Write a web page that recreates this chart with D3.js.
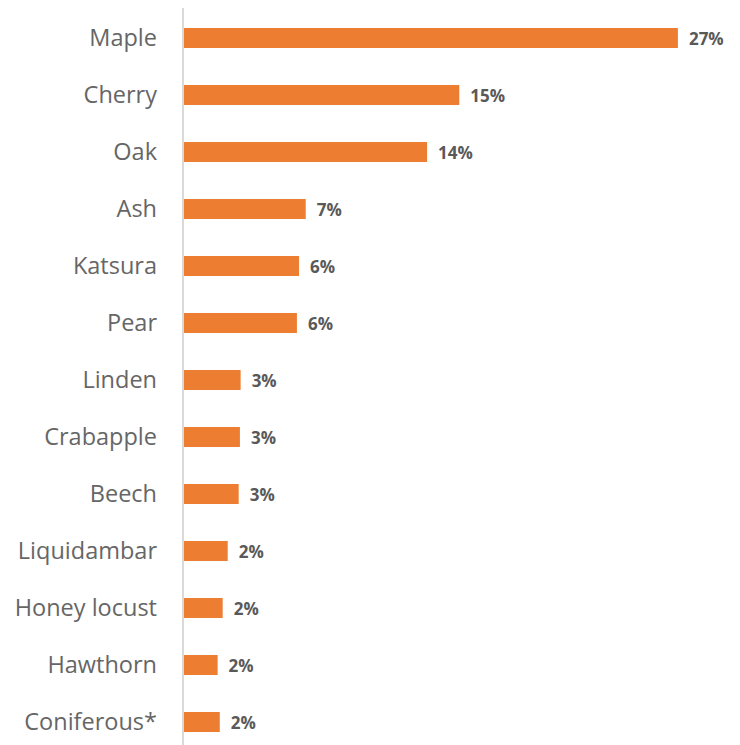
<!DOCTYPE html>
<html><head><meta charset="utf-8">
<script src="https://cdn.jsdelivr.net/npm/d3@7"></script>
<style>body{margin:0;background:#fff}svg{display:block}</style>
</head><body>
<script>
const categories = ["Maple","Cherry","Oak","Ash","Katsura","Pear","Linden","Crabapple","Beech","Liquidambar","Honey locust","Hawthorn","Coniferous*"];
const values = [27.47, 15.31, 13.52, 6.77, 6.40, 6.28, 3.15, 3.11, 3.04, 2.43, 2.15, 1.87, 1.99];

const W = 740, H = 745;
const svg = d3.select("body").append("svg").attr("width", W).attr("height", H);
const x0 = 184;
const x = d3.scaleLinear().domain([0, 30]).range([x0, x0 + 30 * 17.98]);
const y = d3.scaleBand().domain(categories).range([9.5, 750.5]).paddingInner(0.649).paddingOuter(0.3245);

svg.selectAll("rect.bar").data(categories).join("rect")
  .attr("class","bar")
  .attr("x", x(0))
  .attr("y", d => y(d))
  .attr("width", (d,i) => x(values[i]) - x(0))
  .attr("height", y.bandwidth())
  .attr("fill", "#ED7D31");

svg.append("line").attr("x1", 183).attr("x2", 183).attr("y1", 8).attr("y2", H)
  .attr("stroke", "#D9D9D9").attr("stroke-width", 2);

svg.selectAll("text.cat").data(categories).join("text")
  .attr("class","cat")
  .attr("x", 157)
  .attr("y", d => y(d) + y.bandwidth()/2)
  .attr("dy", "0.36em")
  .attr("text-anchor", "end")
  .attr("font-family", "Open Sans, sans-serif")
  .attr("font-size", 23.5)
  .attr("fill", "#666666")
  .text(d => d);

svg.selectAll("text.val").data(categories).join("text")
  .attr("class","val")
  .attr("x", (d,i) => x(values[i]) + 11)
  .attr("y", d => y(d) + y.bandwidth()/2)
  .attr("dy", "0.4em")
  .attr("font-family", "Open Sans, sans-serif")
  .attr("font-weight", "bold")
  .attr("font-size", 17)
  .attr("fill", "#595959")
  .text((d,i) => Math.round(values[i]) + "%");
</script>
</body></html>
